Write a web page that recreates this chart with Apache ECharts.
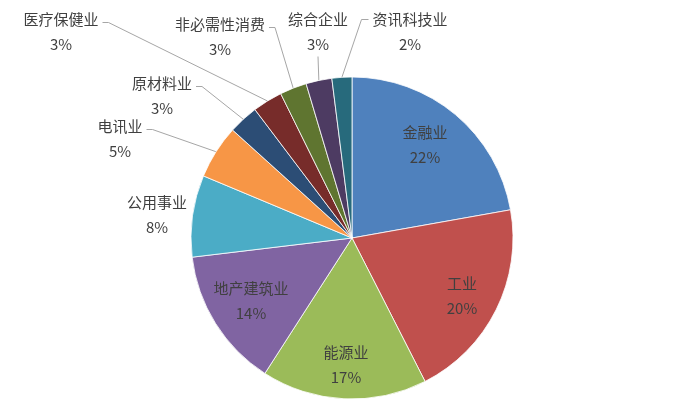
<!DOCTYPE html>
<html>
<head>
<meta charset="utf-8">
<title>行业分布</title>
<script src="https://cdn.jsdelivr.net/npm/echarts@6/dist/echarts.min.js"></script>
<style>
  html, body { margin: 0; padding: 0; background: #fff; }
  #chart { width: 700px; height: 409px; }
</style>
</head>
<body>
<div id="chart"></div>
<script>
// 行业名称与占比（%）
const sectors = ['金融业', '工业', '能源业', '地产建筑业', '公用事业', '电讯业', '原材料业', '医疗保健业', '非必需性消费', '综合企业', '资讯科技业']
const shares = [22.2, 20.3, 16.6, 14.0, 8.2, 5.4, 3.0, 3.0, 2.7, 2.6, 2.0]

// 颜色（Excel 默认配色）
const colors = ['#4F81BD', '#C0504D', '#9BBB59', '#8064A2', '#4BACC6', '#F79646', '#2C4D75', '#772C2A', '#5F7530', '#4D3B62', '#276A7C']

// 标签位置（两行文字块的中心）与引导线起点方向
const labelPos = [
  [425, 145], [462, 296], [346, 365], [251, 301], [157, 215], [120, 139],
  [162, 96], [61, 32], [220, 37], [318, 32], [410, 32]
]
const leaderSide = ['', '', '', '', '', 'right', 'right', 'right', 'right', 'bottom', 'left']

const CX = 352
const CY = 238
const R = 161
const FONT = 15
const LINE_H = 25

const total = shares.reduce((a, b) => a + b, 0)

// 扇区外缘中点（用于引导线终点）
const edgePoint = (idx) => {
  let before = 0
  for (let i = 0; i < idx; i++) before += shares[i]
  const mid = (before + shares[idx] / 2) / total
  const ang = mid * Math.PI * 2
  return [CX + R * Math.sin(ang), CY - R * Math.cos(ang)]
}

const leaderPoints = (idx) => {
  const side = leaderSide[idx]
  if (!side) return null
  const [x, y] = labelPos[idx]
  const w = sectors[idx].length * FONT
  const y1 = y - LINE_H / 2
  const end = edgePoint(idx)
  if (side === 'right') {
    const s = [x + w / 2 + 4, y1 + 3]
    return [s, [s[0] + 6, s[1]], end]
  }
  if (side === 'left') {
    const s = [x - w / 2 - 4, y1]
    return [s, [s[0] - 7, s[1]], end]
  }
  const s = [x, y + LINE_H / 2 + 12]
  return [s, s, end]
}

const data = sectors.map((name, i) => ({
  name,
  value: shares[i],
  itemStyle: { color: colors[i] },
  label: { position: i < 4 ? 'inside' : 'outside' },
  labelLine: { show: !!leaderSide[i] }
}))

const chart = echarts.init(document.getElementById('chart'), null, { renderer: 'canvas' })

chart.setOption({
  backgroundColor: '#fff',
  animation: false,
  series: [{
    type: 'pie',
    center: [CX, CY],
    radius: R,
    startAngle: 90,
    clockwise: true,
    avoidLabelOverlap: false,
    data,
    itemStyle: { borderColor: '#fff', borderWidth: 0.8 },
    label: {
      show: true,
      formatter: (p) => p.name + '\n' + Math.round(p.percent) + '%',
      fontFamily: '"Noto Sans CJK SC", "Noto Sans", sans-serif',
      fontSize: FONT,
      lineHeight: LINE_H,
      color: '#404040',
      align: 'center'
    },
    labelLine: {
      lineStyle: { color: '#A6A6A6', width: 1 }
    },
    labelLayout: (params) => {
      const i = params.dataIndex
      const out = {
        x: labelPos[i][0],
        y: labelPos[i][1],
        align: 'center',
        verticalAlign: 'middle'
      }
      const pts = leaderPoints(i)
      if (pts) out.labelLinePoints = pts
      return out
    }
  }]
})
</script>
</body>
</html>
